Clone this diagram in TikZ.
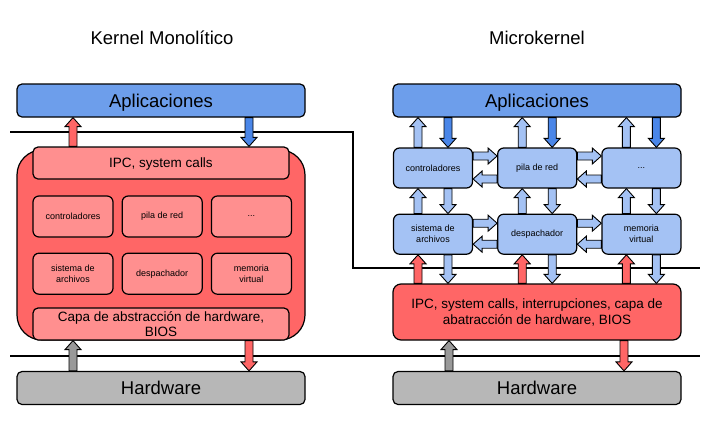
\documentclass[tikz,border=0pt]{standalone}
\usepackage{fontspec}
\setmainfont{Liberation Sans}
\RequirePackage{xcolor}
\definecolor{azul}{HTML}{6D9EEB}
\definecolor{azuloscuro}{HTML}{4A86E8}
\definecolor{celeste}{HTML}{A4C2F4}
\definecolor{rojo}{HTML}{FF6666}
\definecolor{rosa}{HTML}{FF8F8F}
\definecolor{gris}{HTML}{B7B7B7}
\definecolor{grisoscuro}{HTML}{999999}
\usetikzlibrary{calc}
\usetikzlibrary{positioning}

\tikzset{
  caja/.style={draw, line width=1.2pt, rounded corners=5pt, align=center, inner sep=0pt},
  apps/.style={caja, fill=azul, minimum width=288pt, minimum height=33pt, text depth=0pt, font=\fontsize{18.5}{21}\selectfont},
  hw/.style={caja, fill=gris, minimum width=288pt, minimum height=33pt, font=\fontsize{18.5}{21}\selectfont},
  capa/.style={caja, fill=rosa, minimum width=256pt, minimum height=32pt, font=\fontsize{13.5}{15}\selectfont},
  modk/.style={caja, fill=rosa, rounded corners=6pt, minimum width=80pt, minimum height=41pt, font=\fontsize{9}{11}\selectfont},
  modm/.style={caja, fill=celeste, rounded corners=6pt, minimum width=79pt, minimum height=40pt, font=\fontsize{9}{11}\selectfont},
  titulo/.style={font=\fontsize{18.5}{21}\selectfont},
  sep/.style={line width=1.2pt},
}

% block arrow: fill, from, to
\newcommand{\flecha}[3]{%
  \path[draw, line width=0.9pt, fill=#1] let \p1=#2, \p2=#3,
    \n1={atan2(\y2-\y1,\x2-\x1)}, \n2={veclen(\x2-\x1,\y2-\y1)} in
    [shift={(\p1)}, rotate=\n1]
    (0pt,-4pt) -- ({\n2*1pt-9pt},-4pt) -- ({\n2*1pt-9pt},-8pt) -- ({\n2*1pt},0pt)
    -- ({\n2*1pt-9pt},8pt) -- ({\n2*1pt-9pt},4pt) -- (0pt,4pt) -- cycle;}

\begin{document}
\begin{tikzpicture}[x=1pt, y=-1pt]
  \useasboundingbox (0,0) rectangle (710,421);

  \draw[sep] (10,132) -- (353,132) -- (353,268) -- (700,268);
  \draw[sep] (10,356) -- (700,356);

  % Kernel monolitico
  \node[titulo] (tk) at (162,38) {Kernel Monolítico};
  \node[apps] (kapps) at (161,100.5) {Aplicaciones};
  \node[caja, fill=rojo, rounded corners=25pt, minimum width=288pt, minimum height=190pt] (lk) at (161,245) {};
  \node[capa, text depth=0pt] (kipc) at (161,163) {IPC, system calls};
  \node[modk] (k11) at (73,216.5) {controladores};
  \node[modk, right=8pt of k11] (k12) {pila de red};
  \node[modk, right=8pt of k12] (k13) {...};
  \node[modk, below=15pt of k11] (k21) {sistema de\\archivos};
  \node[modk, below=15pt of k12] (k22) {despachador};
  \node[modk, below=15pt of k13] (k23) {memoria\\virtual};
  \node[capa] (khal) at (161,324) {Capa de abstracción de hardware,\\BIOS};
  \node[hw] (khw) at (161,388) {Hardware};

  \flecha{rojo}{($(kipc.north)+(-88,0)$)}{($(kapps.south)+(-88,0)$)}
  \flecha{azuloscuro}{($(kapps.south)+(88,0)$)}{($(kipc.north)+(88,0)$)}
  \flecha{grisoscuro}{($(khw.north)+(-88,0)$)}{($(khal.south)+(-88,0)$)}
  \flecha{rojo}{($(khal.south)+(88,0)$)}{($(khw.north)+(88,0)$)}

  % Microkernel
  \node[titulo] (tm) at (537,38) {Microkernel};
  \node[apps] (mapps) at (537,100.5) {Aplicaciones};
  \node[modm] (m11) at (433,168) {controladores};
  \node[modm, right=24pt of m11] (m12) {pila de red};
  \node[modm, right=24pt of m12] (m13) {...};
  \node[modm, below=25pt of m11] (m21) {sistema de\\archivos};
  \node[modm, below=25pt of m12] (m22) {despachador};
  \node[modm, below=25pt of m13] (m23) {memoria\\virtual};
  \node[caja, fill=rojo, rounded corners=8pt, minimum width=288pt, minimum height=56pt,
        font=\fontsize{13.5}{16}\selectfont] (mipc) at (537,312)
        {IPC, system calls, interrupciones, capa de\\abatracción de hardware, BIOS};
  \node[hw] (mhw) at (537,388) {Hardware};

  \foreach \c in {1,2,3} {
    \flecha{celeste}{($(m1\c.north)+(-15,0)$)}{($(m1\c.north |- mapps.south)+(-15,0)$)}
    \flecha{azuloscuro}{($(m1\c.north |- mapps.south)+(15,0)$)}{($(m1\c.north)+(15,0)$)}
    \flecha{celeste}{($(m2\c.north)+(-15,0)$)}{($(m1\c.south)+(-15,0)$)}
    \flecha{celeste}{($(m1\c.south)+(15,0)$)}{($(m2\c.north)+(15,0)$)}
    \flecha{rojo}{($(m2\c.south |- mipc.north)+(-15,0)$)}{($(m2\c.south)+(-15,0)$)}
    \flecha{celeste}{($(m2\c.south)+(15,0)$)}{($(m2\c.south |- mipc.north)+(15,0)$)}
  }
  \foreach \a/\b in {1/2,2/3} {
    \flecha{celeste}{($(m1\a.east)+(0,-12)$)}{($(m1\b.west)+(0,-12)$)}
    \flecha{celeste}{($(m1\b.west)+(0,11)$)}{($(m1\a.east)+(0,11)$)}
    \flecha{celeste}{($(m2\a.east)+(0,-11)$)}{($(m2\b.west)+(0,-11)$)}
    \flecha{celeste}{($(m2\b.west)+(0,10)$)}{($(m2\a.east)+(0,10)$)}
  }
  \flecha{grisoscuro}{($(mhw.north)+(-88,0)$)}{($(mipc.south)+(-88,0)$)}
  \flecha{rojo}{($(mipc.south)+(87,0)$)}{($(mhw.north)+(87,0)$)}
\end{tikzpicture}
\end{document}
